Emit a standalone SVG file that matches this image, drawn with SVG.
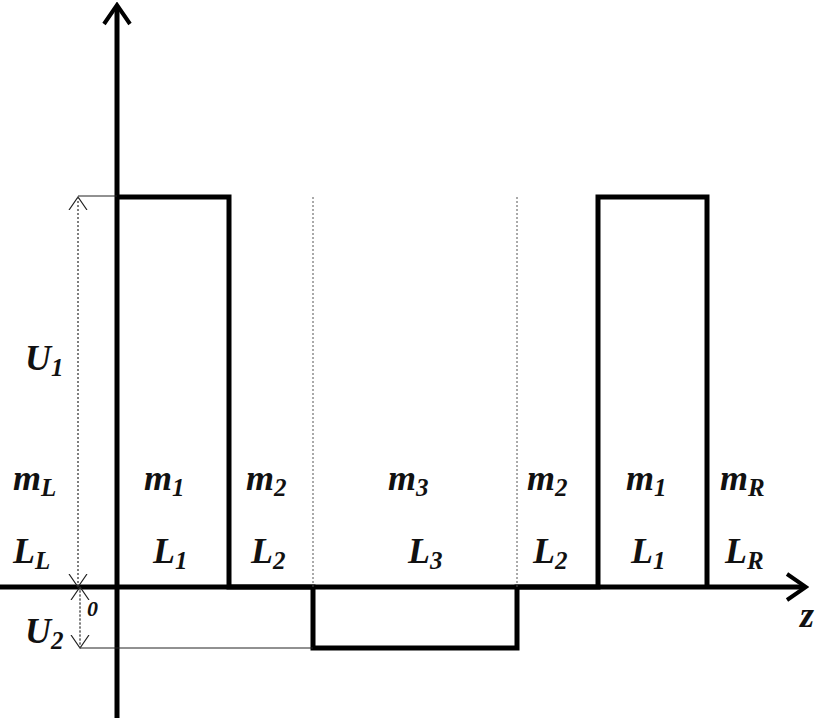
<svg xmlns="http://www.w3.org/2000/svg" width="827" height="718" viewBox="0 0 827 718">
<style>
.t{font-family:"Liberation Serif","Times New Roman",serif;font-weight:bold;font-style:italic;font-size:36px;fill:#111}
.s{font-size:25px}
.thick{stroke:#000;stroke-width:5;fill:none}
.thin{stroke:#222;stroke-width:1;fill:none}
.dot{stroke:#555;stroke-width:1;stroke-dasharray:2 2;fill:none}
</style>
<defs>
<marker id="big" markerWidth="24" markerHeight="30" refX="20" refY="15" orient="auto" markerUnits="userSpaceOnUse" viewBox="0 0 24 30"><path d="M2,2 L21,15 L2,28" stroke="#000" stroke-width="4" fill="none"/></marker>
<marker id="open" markerWidth="14" markerHeight="20" refX="13" refY="10" orient="auto" markerUnits="userSpaceOnUse" viewBox="0 0 14 20"><path d="M0,1 L13,10 L0,19" stroke="#222" stroke-width="1.2" fill="none"/></marker>
</defs>
<rect width="827" height="718" fill="#fff"/>
<g id="connectors">
<line class="thick" x1="117" y1="718" x2="117" y2="6" marker-end="url(#big)"/>
<line class="thick" x1="0" y1="587" x2="805" y2="587" marker-end="url(#big)"/>
<polyline class="thick" points="117,197 229,197 229,587 313,587 313,648 517,648 517,587 598,587 598,197 707,197 707,587"/>
<line class="dot" x1="313" y1="197" x2="313" y2="587"/>
<line class="dot" x1="517" y1="197" x2="517" y2="587"/>
<line class="thin" x1="78" y1="196" x2="117" y2="196"/>
<line class="thin" x1="80" y1="648" x2="313" y2="648"/>
<line class="dot" x1="78" y1="587" x2="78" y2="197" marker-end="url(#open)"/>
<line class="dot" x1="78" y1="197" x2="78" y2="587" marker-end="url(#open)"/>
<line class="dot" x1="80" y1="587" x2="80" y2="648" marker-end="url(#open)"/>
<line class="dot" x1="80" y1="648" x2="80" y2="587" marker-end="url(#open)"/>
</g>
<g id="labels">
<text class="t" x="25" y="370">U<tspan class="s" dy="6">1</tspan></text>
<text class="t" x="13" y="490">m<tspan class="s" dy="6">L</tspan></text>
<text class="t" x="13" y="563">L<tspan class="s" dy="6">L</tspan></text>
<text class="t" x="25" y="643">U<tspan class="s" dy="6">2</tspan></text>
<text class="t" x="87" y="616" style="font-size:22px">0</text>
<text class="t" x="144" y="490">m<tspan class="s" dy="6">1</tspan></text>
<text class="t" x="153" y="563">L<tspan class="s" dy="6">1</tspan></text>
<text class="t" x="246" y="490">m<tspan class="s" dy="6">2</tspan></text>
<text class="t" x="251" y="563">L<tspan class="s" dy="6">2</tspan></text>
<text class="t" x="388" y="490">m<tspan class="s" dy="6">3</tspan></text>
<text class="t" x="408" y="563">L<tspan class="s" dy="6">3</tspan></text>
<text class="t" x="527" y="490">m<tspan class="s" dy="6">2</tspan></text>
<text class="t" x="533" y="563">L<tspan class="s" dy="6">2</tspan></text>
<text class="t" x="626" y="490">m<tspan class="s" dy="6">1</tspan></text>
<text class="t" x="631" y="563">L<tspan class="s" dy="6">1</tspan></text>
<text class="t" x="720" y="490">m<tspan class="s" dy="6">R</tspan></text>
<text class="t" x="725" y="563">L<tspan class="s" dy="6">R</tspan></text>
<text class="t" x="800" y="627">z</text>
</g>
</svg>
